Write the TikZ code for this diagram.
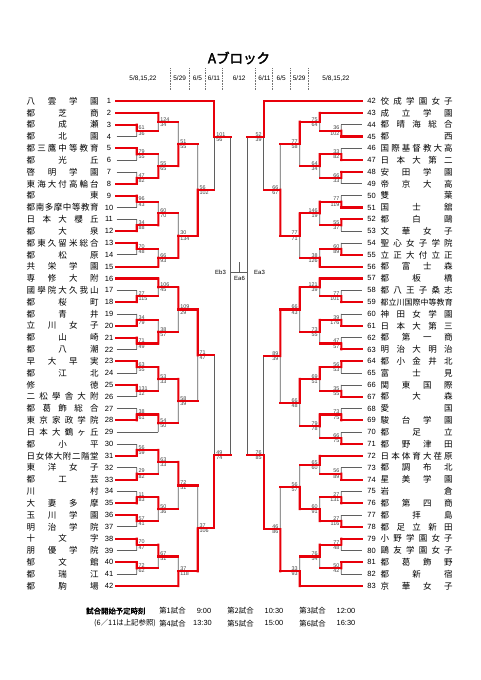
\documentclass[tikz,border=0pt]{standalone}
\usepackage{fontspec}
\usepackage{graphicx}
\setmainfont{Noto Sans CJK JP}
\newfontfamily\lat{Liberation Sans}
\newfontfamily\jpb[FakeBold=2.5]{Noto Sans CJK JP}
\usetikzlibrary{calc}
\pgfdeclarelayer{bg}
\pgfsetlayers{bg,main}
\definecolor{redc}{RGB}{232,0,10}
\definecolor{grayc}{RGB}{95,95,95}
\def\spread#1{\spreadi#1\relax}
\def\spreadi#1{#1\spreadii}
\def\spreadii#1{\ifx#1\relax\else\hfill#1\expandafter\spreadii\fi}
\tikzset{
 rl/.style={draw=redc, line width=2.1pt, line cap=rect},
 gl/.style={draw=grayc, line width=0.8pt},
 dl/.style={draw=black!55, line width=0.5pt, dash pattern=on 0.8pt off 0.8pt},
 nm/.style={anchor=west, inner sep=0pt, font=\fontsize{8.5}{9}\selectfont},
 num/.style={inner sep=0pt, font=\lat\fontsize{7.5}{8}\selectfont},
 sc/.style={inner sep=0pt, font=\lat\fontsize{5.4}{5.4}\selectfont, text=black!75},
 hd/.style={inner sep=0pt, font=\lat\fontsize{6.5}{7}\selectfont},
 ft/.style={inner sep=0pt, font=\fontsize{7.4}{8}\selectfont},
 ftb/.style={inner sep=0pt, font=\jpb\fontsize{7.4}{8}\selectfont},
 cl/.style={inner sep=0pt, font=\lat\fontsize{6}{6}\selectfont},
}
\def\gflag{g}
\newcommand\hseg[3]{\def\tmpa{#1}\ifx\tmpa\gflag
  \begin{pgfonlayer}{bg}\draw[gl] (#2) -- (#3,0 |- #2);\end{pgfonlayer}%
  \else\draw[rl] (#2) -- (#3,0 |- #2);\fi}
\newcommand\M[9]{%
  \def\tmpy{#9}%
  \ifx\tmpy\empty
    \coordinate (#1) at ($(#2,0 |- #3)!0.5!(#2,0 |- #5)$);%
  \else
    \coordinate (#1) at (#2,#9);%
  \fi
  \hseg{#4}{#3}{#2}%
  \hseg{#6}{#5}{#2}%
  \ifnum#8=1\relax
    \begin{pgfonlayer}{bg}\draw[gl] (#2,0 |- #5) -- (#1);\end{pgfonlayer}%
    \draw[rl] (#2,0 |- #3) -- (#1);%
  \else
    \begin{pgfonlayer}{bg}\draw[gl] (#2,0 |- #3) -- (#1);\end{pgfonlayer}%
    \draw[rl] (#2,0 |- #5) -- (#1);%
  \fi
  \def\lastout{#1}%
  \scores#7\relax}
\def\scores#1/#2\relax{%
  \node[sc,anchor=south \myanc] (\lastout-a) at ($(\lastout)+(\mydx,-0.4)$) {#1};%
  \node[sc,anchor=north \myanc] (\lastout-b) at ($(\lastout)+(\mydx,0.6)$) {#2};}
\newcommand\LEFTSIDE{\def\myanc{west}\def\mydx{1.8}}
\newcommand\RIGHTSIDE{\def\myanc{east}\def\mydx{-1.8}}
\newcommand\tL[2]{%
  \node[nm] (nL#1) at (26.5,{101+(#1-1)*11.83}) {\hbox to 72pt{\spread{#2}}};%
  \node[num] (kL#1) at (109,{101+(#1-1)*11.83}) {#1};%
  \coordinate (L#1) at (116.5,{101+(#1-1)*11.83});}
\newcommand\tR[2]{%
  \node[nm] (nR#1) at (380.5,{101+(#1-42)*11.83}) {\hbox to 72pt{\spread{#2}}};%
  \node[num] (kR#1) at (371.5,{101+(#1-42)*11.83}) {#1};%
  \coordinate (R#1) at (361.5,{101+(#1-42)*11.83});}
\begin{document}
\begin{tikzpicture}[x=1pt,y=-1pt]
\begin{pgfonlayer}{bg}
\fill[white] (0,0) rectangle (481,680);
\end{pgfonlayer}
\useasboundingbox (0,0) rectangle (481,680);
% header
\node[font=\jpb\fontsize{13.5}{13.5}\selectfont, inner sep=0pt] (title) at (239,58) {Aブロック};
\node[hd] (h1) at (143,78.3) {5/8,15,22};
\node[hd] (h2) at (179.7,78.3) {5/29};
\node[hd] (h3) at (197.5,78.3) {6/5};
\node[hd] (h4) at (214,78.3) {6/11};
\node[hd] (h5) at (239.2,78.3) {6/12};
\node[hd] (h6) at (264.5,78.3) {6/11};
\node[hd] (h7) at (281.2,78.3) {6/5};
\node[hd] (h8) at (299.2,78.3) {5/29};
\node[hd] (h9) at (336,78.3) {5/8,15,22};
\foreach \xx [count=\k] in {170,189,205.7,222.7,255.7,272.7,290,308.3}{
  \coordinate (dt\k) at (\xx,68.3);
  \coordinate (db\k) at (\xx,89.3);
  \draw[dl] (dt\k) -- (db\k);
}
% left teams
\tL{1}{八雲学園}
\tL{2}{都芝商}
\tL{3}{都成瀬}
\tL{4}{都北園}
\tL{5}{都三鷹中等教育}
\tL{6}{都光丘}
\tL{7}{啓明学園}
\tL{8}{東海大付高輪台}
\tL{9}{都東}
\tL{10}{都南多摩中等教育}
\tL{11}{日本大櫻丘}
\tL{12}{都大泉}
\tL{13}{都東久留米総合}
\tL{14}{都松原}
\tL{15}{共栄学園}
\tL{16}{専修大附}
\tL{17}{國學院大久我山}
\tL{18}{都桜町}
\tL{19}{都青井}
\tL{20}{立川女子}
\tL{21}{都山崎}
\tL{22}{都八潮}
\tL{23}{早大早実}
\tL{24}{都江北}
\tL{25}{修徳}
\tL{26}{二松學舎大附}
\tL{27}{都葛飾総合}
\tL{28}{東京家政学院}
\tL{29}{日本大鶴ヶ丘}
\tL{30}{都小平}
\tL{31}{日女体大附二階堂}
\tL{32}{東洋女子}
\tL{33}{都工芸}
\tL{34}{川村}
\tL{35}{大妻多摩}
\tL{36}{玉川学園}
\tL{37}{明治学院}
\tL{38}{十文字}
\tL{39}{朋優学院}
\tL{40}{郁文館}
\tL{41}{都瑞江}
\tL{42}{都駒場}
% right teams
\tR{42}{佼成学園女子}
\tR{43}{成立学園}
\tR{44}{都晴海総合}
\tR{45}{都西}
\tR{46}{国際基督教大高}
\tR{47}{日本大第二}
\tR{48}{安田学園}
\tR{49}{帝京大高}
\tR{50}{雙葉}
\tR{51}{国士舘}
\tR{52}{都白鷗}
\tR{53}{文華女子}
\tR{54}{聖心女子学院}
\tR{55}{立正大付立正}
\tR{56}{都富士森}
\tR{57}{都板橋}
\tR{58}{都八王子桑志}
\node[nm] (nR59) at (380.5,{101+17*11.83}) {\fontsize{7.95}{8}\selectfont\hbox to 72pt{\spread{都立川国際中等教育}}};
\node[num] (kR59) at (371.5,{101+17*11.83}) {59};
\coordinate (R59) at (361.5,{101+17*11.83});
\tR{60}{神田女学園}
\tR{61}{日本大第三}
\tR{62}{都第一商}
\tR{63}{明治大明治}
\tR{64}{都小金井北}
\tR{65}{富士見}
\tR{66}{関東国際}
\tR{67}{都大森}
\tR{68}{愛国}
\tR{69}{駿台学園}
\tR{70}{都足立}
\tR{71}{都野津田}
\tR{72}{日本体育大荏原}
\tR{73}{都調布北}
\tR{74}{星美学園}
\tR{75}{岩倉}
\tR{76}{都第四商}
\tR{77}{都拝島}
\tR{78}{都足立新田}
\tR{79}{小野学園女子}
\tR{80}{鷗友学園女子}
\tR{81}{都葛飾野}
\tR{82}{都新宿}
\tR{83}{京華女子}
% ---------- left bracket ----------
\LEFTSIDE
\M{m34}{136.7}{L3}{r}{L4}{g}{61/36}{1}{}
\M{m2}{158.3}{L2}{r}{m34}{r}{124/34}{1}{}
\M{m56}{136.7}{L5}{r}{L6}{g}{79/55}{1}{}
\M{m78}{136.7}{L7}{g}{L8}{r}{47/82}{2}{}
\M{m5t8}{158.3}{m56}{r}{m78}{r}{55/65}{2}{}
\M{m2t8}{178.3}{m2}{r}{m5t8}{r}{51/55}{2}{}
\M{m910}{136.7}{L9}{r}{L10}{g}{96/43}{1}{}
\M{m1112}{136.7}{L11}{g}{L12}{r}{34/88}{2}{}
\M{m9t12}{158.3}{m910}{r}{m1112}{r}{60/70}{2}{}
\M{m1314}{136.7}{L13}{r}{L14}{g}{70/48}{1}{}
\M{m13t15}{158.3}{m1314}{r}{L15}{r}{66/93}{2}{}
\M{m9t15}{178.3}{m9t12}{r}{m13t15}{r}{30/134}{2}{}
\M{m2t15}{197.7}{m2t8}{r}{m9t15}{r}{56/102}{2}{}
\M{mLa}{214.3}{L1}{r}{m2t15}{r}{101/56}{1}{136.7}
\M{m1718}{136.7}{L17}{g}{L18}{r}{27/115}{2}{}
\M{m16t18}{158.3}{L16}{r}{m1718}{r}{106/45}{1}{}
\M{m1920}{136.7}{L19}{g}{L20}{r}{34/79}{2}{}
\M{m2122}{136.7}{L21}{r}{L22}{g}{71/49}{1}{}
\M{m19t22}{158.3}{m1920}{r}{m2122}{r}{38/57}{2}{}
\M{m16t22}{178.3}{m16t18}{r}{m19t22}{r}{109/29}{1}{}
\M{m2324}{136.7}{L23}{r}{L24}{g}{63/55}{1}{}
\M{m2526}{136.7}{L25}{r}{L26}{g}{131/12}{1}{}
\M{m23t26}{158.3}{m2324}{r}{m2526}{r}{53/33}{1}{}
\M{m2728}{136.7}{L27}{g}{L28}{r}{38/61}{2}{}
\M{m27t29}{158.3}{m2728}{r}{L29}{g}{54/50}{1}{}
\M{m23t29}{178.3}{m23t26}{r}{m27t29}{r}{58/39}{1}{}
\M{m16t29}{197.7}{m16t22}{r}{m23t29}{r}{71/47}{1}{}
\M{m3031}{136.7}{L30}{g}{L31}{r}{56/59}{2}{}
\M{m3233}{136.7}{L32}{g}{L33}{r}{29/82}{2}{}
\M{m30t33}{158.3}{m3031}{r}{m3233}{r}{63/33}{1}{}
\M{m3435}{136.7}{L34}{g}{L35}{r}{11/83}{2}{}
\M{m3637}{136.7}{L36}{r}{L37}{g}{57/41}{1}{}
\M{m34t37}{158.3}{m3435}{r}{m3637}{r}{50/36}{1}{}
\M{m30t37}{178.3}{m30t33}{r}{m34t37}{r}{72/51}{1}{}
\M{m3839}{136.7}{L38}{r}{L39}{g}{70/47}{1}{}
\M{m4041}{136.7}{L40}{r}{L41}{g}{72/62}{1}{}
\M{m38t41}{158.3}{m3839}{r}{m4041}{r}{67/51}{1}{}
\M{m38t42}{178.3}{m38t41}{r}{L42}{r}{37/118}{2}{}
\M{m30t42}{197.7}{m30t37}{r}{m38t42}{r}{37/106}{2}{}
\M{mLb}{214.3}{m16t29}{r}{m30t42}{r}{49/74}{2}{455}
% ---------- right bracket ----------
\RIGHTSIDE
\M{n4445}{341.3}{R44}{g}{R45}{r}{36/102}{2}{}
\M{n43t45}{319.7}{R43}{r}{n4445}{r}{75/64}{1}{}
\M{n4647}{341.3}{R46}{g}{R47}{r}{33/82}{2}{}
\M{n4849}{341.3}{R48}{r}{R49}{g}{66/33}{1}{}
\M{n46t49}{319.7}{n4647}{r}{n4849}{r}{64/34}{1}{}
\M{n43t49}{299.7}{n43t45}{r}{n46t49}{r}{77/58}{1}{}
\M{n5051}{341.3}{R50}{g}{R51}{r}{77/119}{2}{}
\M{n5253}{341.3}{R52}{r}{R53}{g}{55/37}{1}{}
\M{n50t53}{319.7}{n5051}{r}{n5253}{r}{146/19}{1}{}
\M{n5455}{341.3}{R54}{g}{R55}{r}{60/89}{2}{}
\M{n54t56}{319.7}{n5455}{r}{R56}{r}{38/126}{2}{}
\M{n50t56}{299.7}{n50t53}{r}{n54t56}{r}{77/71}{1}{}
\M{n43t56}{280.3}{n43t49}{r}{n50t56}{r}{66/67}{2}{}
\M{nRa}{263.7}{R42}{r}{n43t56}{r}{52/39}{1}{136.7}
\M{n5859}{341.3}{R58}{g}{R59}{r}{77/101}{2}{}
\M{n57t59}{319.7}{R57}{r}{n5859}{r}{121/39}{1}{}
\M{n6061}{341.3}{R60}{g}{R61}{r}{39/176}{2}{}
\M{n6263}{341.3}{R62}{g}{R63}{r}{47/57}{2}{}
\M{n60t63}{319.7}{n6061}{r}{n6263}{r}{73/55}{1}{}
\M{n57t63}{299.7}{n57t59}{r}{n60t63}{r}{66/43}{1}{}
\M{n6465}{341.3}{R64}{r}{R65}{g}{56/53}{1}{}
\M{n6667}{341.3}{R66}{g}{R67}{r}{35/55}{2}{}
\M{n64t67}{319.7}{n6465}{r}{n6667}{r}{69/51}{1}{}
\M{n6869}{341.3}{R68}{g}{R69}{r}{73/75}{2}{}
\M{n7071}{341.3}{R70}{g}{R71}{r}{66/75}{2}{}
\M{n68t71}{319.7}{n6869}{r}{n7071}{r}{79/78}{1}{}
\M{n64t71}{299.7}{n64t67}{r}{n68t71}{r}{66/48}{1}{}
\M{n57t71}{280.3}{n57t63}{r}{n64t71}{r}{89/39}{1}{}
\M{n7374}{341.3}{R73}{g}{R74}{r}{56/89}{2}{}
\M{n72t74}{319.7}{R72}{r}{n7374}{r}{65/60}{1}{}
\M{n7576}{341.3}{R75}{g}{R76}{r}{27/131}{2}{}
\M{n7778}{341.3}{R77}{g}{R78}{r}{27/116}{2}{}
\M{n75t78}{319.7}{n7576}{r}{n7778}{r}{60/91}{2}{}
\M{n72t78}{299.7}{n72t74}{r}{n75t78}{r}{56/57}{2}{}
\M{n7980}{341.3}{R79}{r}{R80}{g}{77/48}{1}{}
\M{n8182}{341.3}{R81}{r}{R82}{g}{50/42}{1}{}
\M{n79t82}{319.7}{n7980}{r}{n8182}{r}{76/54}{1}{}
\M{n79t83}{299.7}{n79t82}{r}{R83}{r}{33/93}{2}{}
\M{n72t83}{280.3}{n72t78}{r}{n79t83}{r}{46/86}{2}{}
\M{nRb}{263.7}{n57t71}{r}{n72t83}{r}{76/85}{2}{455}
% ---------- centre ----------
\coordinate (ebT) at (230.7,0 |- mLa);
\coordinate (ebB) at (230.7,0 |- mLb);
\coordinate (eaT) at (247.3,0 |- nRa);
\coordinate (eaB) at (247.3,0 |- nRb);
\draw[rl] (mLa) -- (ebT);
\draw[rl] (mLb) -- (ebB);
\draw[rl] (nRa) -- (eaT);
\draw[rl] (nRb) -- (eaB);
\begin{pgfonlayer}{bg}
\draw[gl] (ebT) -- (ebB);
\draw[gl] (eaT) -- (eaB);
\coordinate (eb) at (230.7,272.5);
\coordinate (ea) at (247.3,272.5);
\coordinate (fm) at (239,272.5);
\coordinate (ft) at (239,262);
\draw[gl] (eb) -- (ea);
\draw[gl] (fm) -- (ft);
\end{pgfonlayer}
\node[cl] (lEb) at (220.5,272) {Eb3};
\node[cl] (lEa) at (259.5,272) {Ea3};
\node[cl] (lEf) at (239.5,278.8) {Ea6};
% ---------- footer ----------
\node[ftb,anchor=west] (f0) at (86,611) {試合開始予定時刻};
\node[ft] (f1) at (172.5,611) {第1試合};
\node[ft,font=\lat\fontsize{7.4}{8}\selectfont] (f1t) at (204,611) {9:00};
\node[ft] (f2) at (240.5,611) {第2試合};
\node[ft,font=\lat\fontsize{7.4}{8}\selectfont] (f2t) at (274,611) {10:30};
\node[ft] (f3) at (312.5,611) {第3試合};
\node[ft,font=\lat\fontsize{7.4}{8}\selectfont] (f3t) at (346,611) {12:00};
\node[ft,anchor=west] (f00) at (94,623.3) {(6／11は上記参照)};
\node[ft] (f4) at (172.5,623.3) {第4試合};
\node[ft,font=\lat\fontsize{7.4}{8}\selectfont] (f4t) at (202.5,623.3) {13:30};
\node[ft] (f5) at (240.5,623.3) {第5試合};
\node[ft,font=\lat\fontsize{7.4}{8}\selectfont] (f5t) at (274,623.3) {15:00};
\node[ft] (f6) at (312.5,623.3) {第6試合};
\node[ft,font=\lat\fontsize{7.4}{8}\selectfont] (f6t) at (346,623.3) {16:30};
\end{tikzpicture}
\end{document}
